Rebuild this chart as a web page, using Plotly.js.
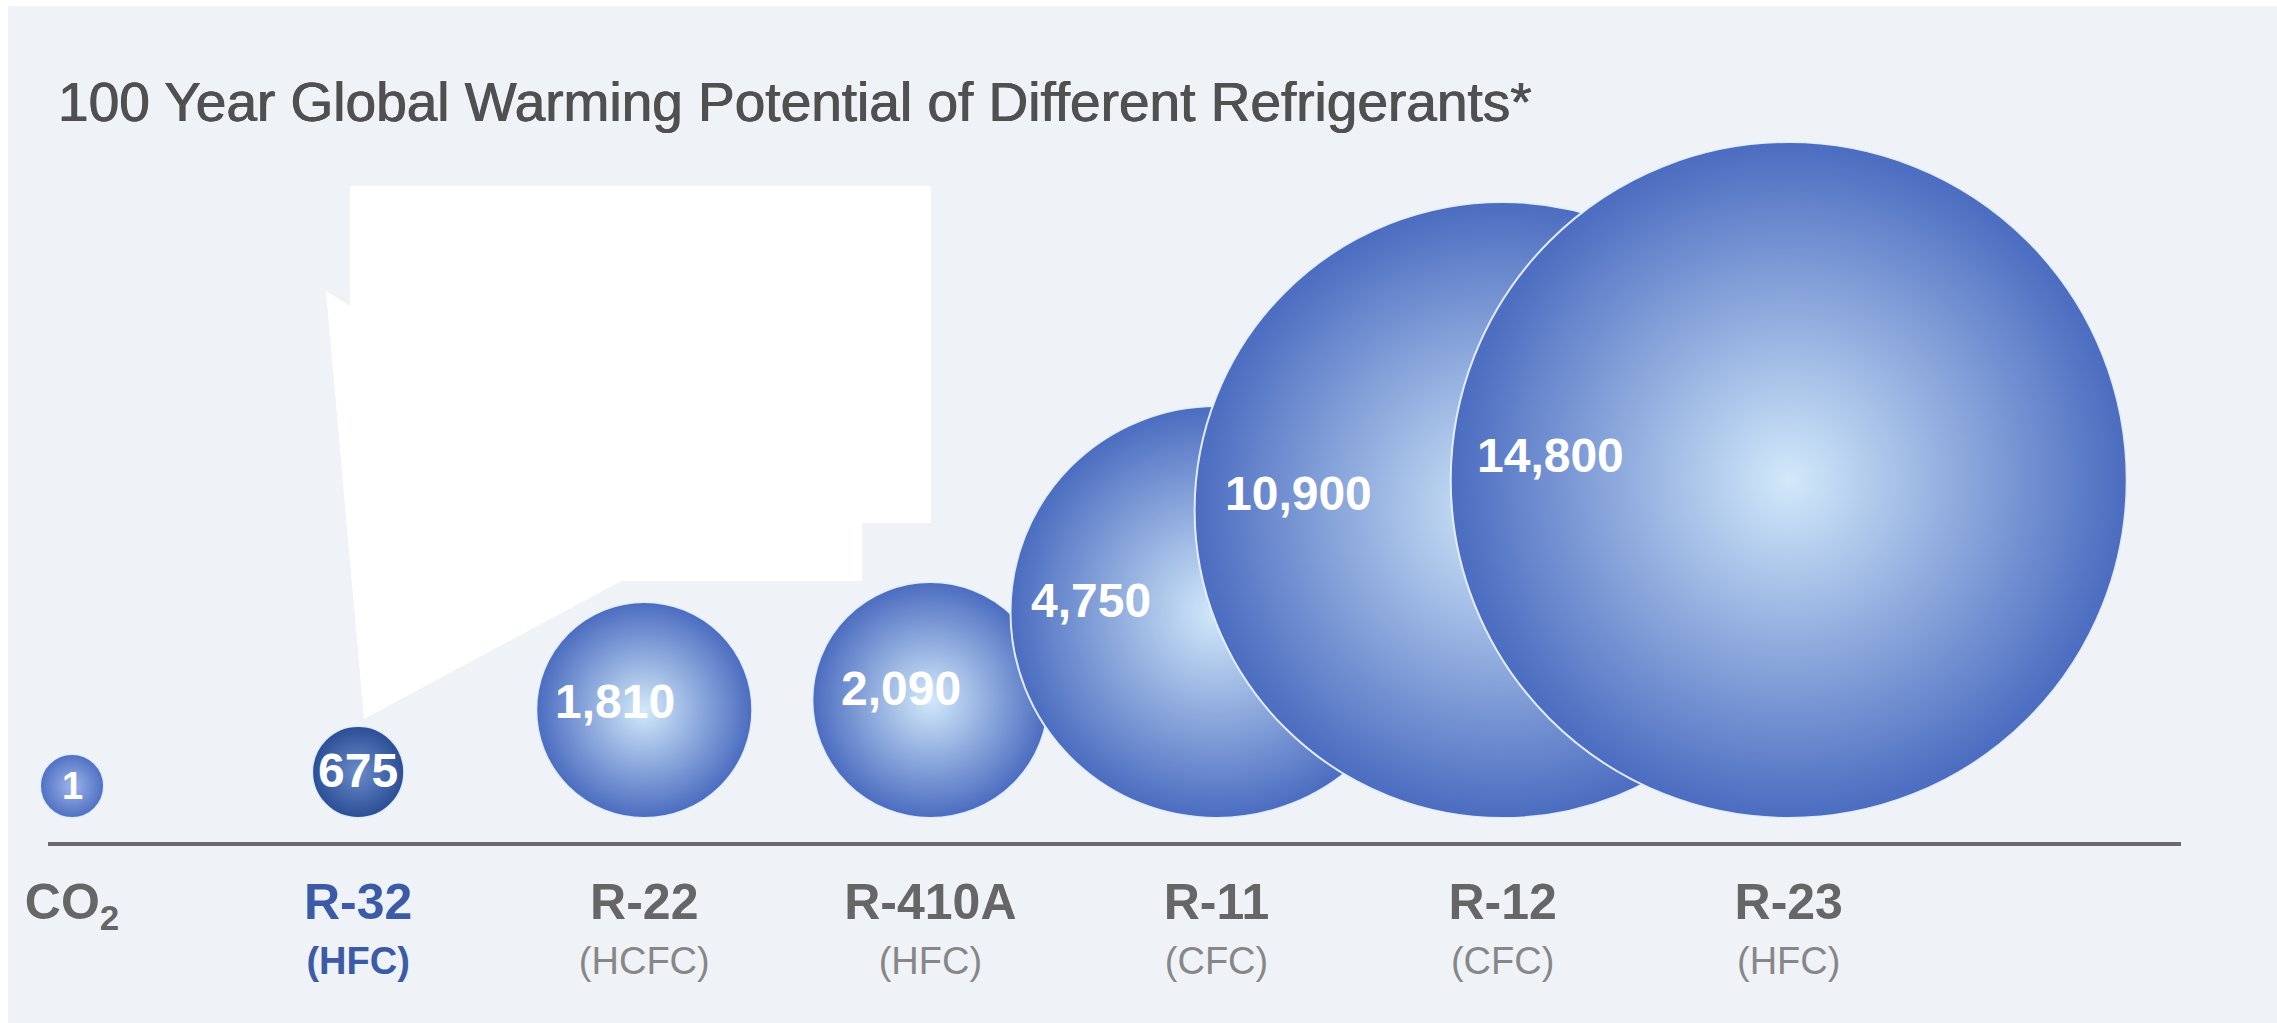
<!DOCTYPE html>
<html>
<head>
<meta charset="utf-8">
<script src="https://cdn.plot.ly/plotly-3.0.1.min.js"></script>
<style>
  html, body { margin: 0; padding: 0; background: #ffffff; width: 2277px; height: 1023px; overflow: hidden; }
  #chart { position: absolute; left: 8px; top: 6px; width: 2269px; height: 1017px; }
</style>
</head>
<body>
<div id="chart"></div>
<script>
// ---------------- DATA ----------------
const refrigerants     = ['CO2', 'R-32', 'R-22', 'R-410A', 'R-11', 'R-12', 'R-23'];
const refrigerantClass = ['', 'HFC', 'HCFC', 'HFC', 'CFC', 'CFC', 'HFC'];
const gwp100           = [1, 675, 1810, 2090, 4750, 10900, 14800];
const chartTitle       = '100 Year Global Warming Potential of Different Refrigerants*';
const highlighted      = 'R-32';

// ---------------- STYLE ----------------
const W = 2269, H = 1017;
const M = { l: 40, r: 96, t: 94, b: 181 };
const plotW = W - M.l - M.r, plotH = H - M.t - M.b;
const baselineGap = 24;                                   // px between bubbles and the axis line
const bubbleDiameter = [64, 92, 216, 236, 412, 616, 676]; // px (infographic sizes)
const valueLabelShiftX = [0, 0, -29, -29, -126, -204, -238];
const valueLabelShiftY = [0, 2, 9, 12, 12, 17, 25];
const edgeColor = ['#4e6fc3', '#2b4d95', '#4b6cc0', '#4b6cc0', '#4b6cc0', '#4b6cc0', '#4b6cc0'];
const coreColor = ['#9cb5ea', '#6a8cca', '#d2e9fa', '#d2e9fa', '#d2e9fa', '#d2e9fa', '#d2e9fa'];
const SANS = '"Liberation Sans", Arial, sans-serif';
const GREY = '#666666', LIGHTGREY = '#878787', BLUE = '#3b5ba6';

function tickLabel(name, cls) {
  const hi = name === highlighted;
  const c1 = hi ? BLUE : GREY;
  const c2 = hi ? BLUE : LIGHTGREY;
  const shown = name === 'CO2' ? 'CO<sub>2</sub>' : name;
  let s = '<span style="font-size:50px;color:' + c1 + '"><b>' + shown + '</b></span>';
  if (cls) {
    const inner = '(' + cls + ')';
    s += '<br><span style="font-size:38px;color:' + c2 + '">' + (hi ? '<b>' + inner + '</b>' : inner) + '</span>';
  }
  return s;
}

const centerY = bubbleDiameter.map(d => d / 2);

const bubbles = {
  type: 'scatter',
  mode: 'markers',
  x: refrigerants,
  y: centerY,
  cliponaxis: false,
  hoverinfo: 'skip',
  marker: {
    size: bubbleDiameter,
    sizemode: 'diameter',
    color: edgeColor,
    opacity: 1,
    gradient: { type: 'radial', color: coreColor },
    line: { color: 'rgba(232,241,251,0.95)', width: 2 }
  }
};

const valueLabels = refrigerants.map((r, i) => ({
  x: r,
  y: centerY[i],
  xref: 'x', yref: 'y',
  text: '<b>' + gwp100[i].toLocaleString('en-US') + '</b>',
  showarrow: false,
  xshift: valueLabelShiftX[i],
  yshift: valueLabelShiftY[i],
  font: { family: SANS, size: i === 0 ? 38 : 48, color: '#ffffff' }
}));

// white occluding panel present in the source picture (image px -> paper)
const occluder = [[350,186],[931,186],[931,523],[862,523],[862,581],[621,581],[364,719],[326,291],[350,306]];
function px2paper(p) {
  const x = (p[0] - 8 - M.l) / plotW;
  const y = 1 - (p[1] - 6 - M.t) / plotH;
  return x.toFixed(5) + ',' + y.toFixed(5);
}
const occPath = 'M' + occluder.map(px2paper).join(' L') + ' Z';

const layout = {
  width: W, height: H, autosize: false,
  margin: M,
  paper_bgcolor: '#eff3f7',
  plot_bgcolor: 'rgba(0,0,0,0)',
  showlegend: false,
  title: {
    text: chartTitle,
    font: { family: SANS, size: 55, color: '#505050', shadow: '0.6px 0px 0px #505050, -0.4px 0px 0px #505050' },
    xref: 'container', yref: 'container',
    x: 50 / W, xanchor: 'left',
    y: 1 - 96 / H, yanchor: 'middle'
  },
  xaxis: {
    type: 'category',
    categoryorder: 'array',
    categoryarray: refrigerants,
    range: [-0.084, 7.371],
    showline: true, linecolor: '#6b6b6b', linewidth: 4,
    showgrid: false, zeroline: false, ticks: '',
    tickmode: 'array',
    tickvals: refrigerants,
    ticktext: refrigerants.map((r, i) => tickLabel(r, refrigerantClass[i])),
    tickfont: { family: SANS, size: 42, color: LIGHTGREY },
    ticklabelstandoff: 23,
    fixedrange: true
  },
  yaxis: {
    range: [-baselineGap, plotH - baselineGap],
    visible: false, fixedrange: true
  },
  annotations: valueLabels,
  shapes: [{
    type: 'path', xref: 'paper', yref: 'paper', path: occPath,
    fillcolor: '#ffffff', line: { width: 0 }, layer: 'above'
  }]
};

Plotly.newPlot('chart', [bubbles], layout, { displayModeBar: false, staticPlot: true });
</script>
</body>
</html>
